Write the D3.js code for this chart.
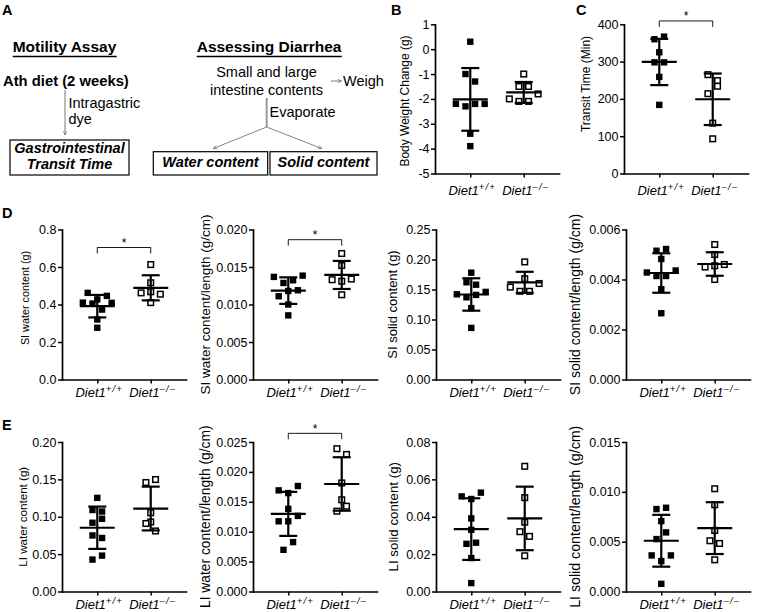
<!DOCTYPE html>
<html><head><meta charset="utf-8">
<script src="https://cdn.jsdelivr.net/npm/d3@7"></script>
<style>
body{margin:0;background:#fff}
svg{display:block}
text{font-family:'Liberation Sans',Arial,Helvetica,sans-serif;fill:#000}
</style>
</head><body>
<svg id="fig" width="757" height="612"></svg>
<script>
// ================= DATA =================
const groupKeys = ["wt", "ko"];
const groupName = "Diet1";
const groupSups = ["+/+", "\u2013/\u2013"];

// B: body weight change (g)
const bodyWeightWT = [0.3, -1.0, -1.3, -2.2, -2.3, -2.2, -2.2, -3.4, -3.9];
const bodyWeightKO = [-1.0, -1.5, -1.5, -2.0, -2.1, -2.1, -1.8];
const bodyWeightMean = [-2.02, -1.74];
const bodyWeightSD = [1.26, 0.42];
const bodyWeightTicks = [-5, -4, -3, -2, -1, 0, 1];

// C: transit time (min)
const transitWT = [360, 367, 325, 298, 298, 259, 184];
const transitKO = [265, 249, 214, 234, 135, 93];
const transitMean = [299, 199];
const transitSD = [62, 69];
const transitTicks = [0, 100, 200, 300, 400];
const transitSig = 409;

// D1: SI water content (g)
const siWaterWT = [0.462, 0.427, 0.446, 0.41, 0.405, 0.373, 0.409, 0.32, 0.276];
const siWaterKO = [0.613, 0.516, 0.462, 0.468, 0.455, 0.41];
const siWaterMean = [0.391, 0.489];
const siWaterSD = [0.060, 0.067];
const siWaterTicks = [0, 0.2, 0.4, 0.6, 0.8];
const siWaterSig = 0.704;

// D2: SI water content/length (g/cm)
const siWaterLenWT = [0.01368, 0.01287, 0.01323, 0.01385, 0.0111, 0.0118, 0.0119, 0.0100, 0.00855];
const siWaterLenKO = [0.0168, 0.0152, 0.0133, 0.0131, 0.0134, 0.0113];
const siWaterLenMean = [0.01185, 0.01394];
const siWaterLenSD = [0.00177, 0.00187];
const siWaterLenTicks = [0, 0.005, 0.010, 0.015, 0.020];
const siWaterLenSig = 0.01864;

// D3: SI solid content (g)
const siSolidWT = [0.178, 0.162, 0.158, 0.142, 0.137, 0.141, 0.146, 0.119, 0.086];
const siSolidKO = [0.196, 0.168, 0.154, 0.147, 0.147, 0.160];
const siSolidMean = [0.1417, 0.162];
const siSolidSD = [0.027, 0.0175];
const siSolidTicks = [0, 0.05, 0.10, 0.15, 0.20, 0.25];

// D4: SI solid content/length (g/cm)
const siSolidLenWT = [0.00515, 0.00522, 0.00482, 0.00428, 0.00414, 0.00414, 0.00436, 0.00361, 0.00265];
const siSolidLenKO = [0.0054, 0.0050, 0.0045, 0.00455, 0.0046, 0.0040];
const siSolidLenMean = [0.00426, 0.00462];
const siSolidLenSD = [0.00079, 0.00047];
const siSolidLenTicks = [0, 0.002, 0.004, 0.006];

// E1: LI water content (g)
const liWaterWT = [0.1253, 0.109, 0.107, 0.092, 0.0973, 0.075, 0.0716, 0.0427, 0.048];
const liWaterKO = [0.1458, 0.1498, 0.1053, 0.093, 0.091, 0.081];
const liWaterMean = [0.0853, 0.111];
const liWaterSD = [0.0283, 0.0293];
const liWaterTicks = [0, 0.05, 0.10, 0.15, 0.20];

// E2: LI water content/length (g/cm)
const liWaterLenWT = [0.01691, 0.01646, 0.01764, 0.01382, 0.01174, 0.01174, 0.01264, 0.00697, 0.00826];
const liWaterLenKO = [0.02388, 0.02292, 0.01815, 0.01534, 0.01343, 0.01427];
const liWaterLenMean = [0.01298, 0.01798];
const liWaterLenSD = [0.00368, 0.00447];
const liWaterLenTicks = [0, 0.005, 0.010, 0.015, 0.020, 0.025];
const liWaterLenSig = 0.02645;

// E3: LI solid content (g)
const liSolidWT = [0.0509, 0.0495, 0.0529, 0.0391, 0.033, 0.0255, 0.0261, 0.0179, 0.0045];
const liSolidKO = [0.067, 0.0502, 0.0371, 0.032, 0.0295, 0.0191];
const liSolidMean = [0.0334, 0.0391];
const liSolidSD = [0.0165, 0.017];
const liSolidTicks = [0, 0.02, 0.04, 0.06, 0.08];

// E4: LI solid content/length (g/cm)
const liSolidLenWT = [0.00827, 0.0084, 0.00706, 0.00526, 0.00593, 0.00362, 0.00305, 0.00362, 0.00077];
const liSolidLenKO = [0.01031, 0.0087, 0.00613, 0.00509, 0.00482, 0.00318];
const liSolidLenMean = [0.00509, 0.00636];
const liSolidLenSD = [0.0026, 0.0026];
const liSolidLenTicks = [0, 0.005, 0.010, 0.015];

// ================= LAYOUT =================
const svg = d3.select("#fig");
svg.append("rect").attr("width", 757).attr("height", 612).attr("fill", "#fff");

const rowTop = {top: 24.3, bot: 173.5, lab: 21};
const rowD = {top: 229.5, bot: 379.5, lab: 17.5};
const rowE = {top: 442, bot: 591.5, lab: 17.5};

const panels = [
  {ax: 435, row: rowTop, wt: bodyWeightWT, ko: bodyWeightKO, mean: bodyWeightMean, sd: bodyWeightSD, ticks: bodyWeightTicks, fmt: d => String(d), title: "Body Weight Change  (g)", tSize: 12, tX: 405, tY: 101},
  {ax: 624, row: rowTop, wt: transitWT, ko: transitKO, mean: transitMean, sd: transitSD, ticks: transitTicks, fmt: d3.format("d"), title: "Transit Time (Min)", tSize: 12, tX: 586, tY: 84, sig: transitSig},
  {ax: 62, row: rowD, wt: siWaterWT, ko: siWaterKO, mean: siWaterMean, sd: siWaterSD, ticks: siWaterTicks, fmt: d3.format(".1f"), title: "SI water content (g)", tSize: 10.8, tX: 25, tY: 298, sig: siWaterSig},
  {ax: 253, row: rowD, wt: siWaterLenWT, ko: siWaterLenKO, mean: siWaterLenMean, sd: siWaterLenSD, ticks: siWaterLenTicks, fmt: d3.format(".3f"), title: "SI water content/length (g/cm)", tSize: 13.5, tX: 205, sig: siWaterLenSig},
  {ax: 436, row: rowD, wt: siSolidWT, ko: siSolidKO, mean: siSolidMean, sd: siSolidSD, ticks: siSolidTicks, fmt: d3.format(".2f"), title: "SI solid content (g)", tSize: 13, tX: 392},
  {ax: 626, row: rowD, wt: siSolidLenWT, ko: siSolidLenKO, mean: siSolidLenMean, sd: siSolidLenSD, ticks: siSolidLenTicks, fmt: d3.format(".3f"), title: "SI solid content/length (g/cm)", tSize: 14, tX: 575},
  {ax: 62, row: rowE, wt: liWaterWT, ko: liWaterKO, mean: liWaterMean, sd: liWaterSD, ticks: liWaterTicks, fmt: d3.format(".2f"), title: "LI water content (g)", tSize: 11.6, tX: 22},
  {ax: 253, row: rowE, wt: liWaterLenWT, ko: liWaterLenKO, mean: liWaterLenMean, sd: liWaterLenSD, ticks: liWaterLenTicks, fmt: d3.format(".3f"), title: "LI water content/length (g/cm)", tSize: 13.8, tX: 205, sig: liWaterLenSig},
  {ax: 436, row: rowE, wt: liSolidWT, ko: liSolidKO, mean: liSolidMean, sd: liSolidSD, ticks: liSolidTicks, fmt: d3.format(".2f"), title: "LI solid content (g)", tSize: 13.3, tX: 393},
  {ax: 626, row: rowE, wt: liSolidLenWT, ko: liSolidLenKO, mean: liSolidLenMean, sd: liSolidLenSD, ticks: liSolidLenTicks, fmt: d3.format(".3f"), title: "LI solid content/length (g/cm)", tSize: 14.2, tX: 575}
];

function swarm(values, y, thr, gap) {
  const idx = values.map((v, i) => i).sort((a, b) => values[a] - values[b] || a - b);
  const off = new Array(values.length).fill(0);
  const rows = [];
  let cur = null;
  for (const i of idx) {
    if (cur && Math.abs(y(values[i]) - y(values[cur[0]])) < thr) cur.push(i);
    else { cur = [i]; rows.push(cur); }
  }
  rows.forEach(r => {
    r.sort((a, b) => a - b);
    r.forEach((i, k) => off[i] = (k - (r.length - 1) / 2) * gap);
  });
  return off;
}

function drawPanel(p) {
  const {ax, row} = p;
  const y = d3.scaleLinear().domain([p.ticks[0], p.ticks[p.ticks.length - 1]]).range([row.bot, row.top]);
  const x = d3.scalePoint().domain(groupKeys).range([ax, ax + 124]).padding(0.66);
  const g = svg.append("g");

  // y axis
  const ya = g.append("g").attr("transform", `translate(${ax},0)`)
    .call(d3.axisLeft(y).tickValues(p.ticks).tickFormat(p.fmt).tickSize(4).tickSizeOuter(0).tickPadding(1.5));
  ya.select(".domain").attr("stroke-width", 1.7).attr("stroke-linecap", "square");
  ya.selectAll(".tick line").attr("stroke-width", 1.5);
  ya.selectAll(".tick text").attr("font-size", 12.5).attr("font-family", "'Liberation Sans',Arial,sans-serif").attr("fill", "#000");

  // x axis
  const xa = g.append("g").attr("transform", `translate(0,${row.bot})`)
    .call(d3.axisBottom(x).tickSize(4).tickSizeOuter(0).tickFormat(""));
  xa.select(".domain").attr("stroke-width", 1.7).attr("stroke-linecap", "square");
  xa.selectAll(".tick line").attr("stroke-width", 1.5);

  // category labels
  groupKeys.forEach((k, i) => {
    const t = g.append("text").attr("x", x(k) + 2).attr("y", row.bot + row.lab)
      .attr("text-anchor", "middle").attr("font-size", 13).attr("font-style", "italic");
    t.append("tspan").text(groupName);
    t.append("tspan").attr("dy", -5).attr("font-size", 9.5).attr("letter-spacing", 1.2).text(groupSups[i]);
  });

  // title
  const ty = p.tY !== undefined ? p.tY : (row.top + row.bot) / 2;
  g.append("text").attr("transform", `translate(${p.tX},${ty}) rotate(-90)`)
    .attr("text-anchor", "middle").attr("dominant-baseline", "central")
    .attr("font-size", p.tSize).text(p.title);

  // points
  const series = [p.wt, p.ko];
  series.forEach((vals, gi) => {
    const off = swarm(vals, y, 8, 9.6);
    const cx = x(groupKeys[gi]);
    const s = gi === 0 ? 6.4 : 5.6;
    g.append("g").selectAll("rect").data(vals).join("rect")
      .attr("x", (d, i) => cx + off[i] - s / 2)
      .attr("y", d => y(d) - s / 2)
      .attr("width", s)
      .attr("height", s)
      .attr("fill", gi === 0 ? "#000" : "#fff")
      .attr("stroke", gi === 0 ? "none" : "#000")
      .attr("stroke-width", 1.5);
  });

  // mean ± SD
  groupKeys.forEach((k, gi) => {
    const cx = x(k), m = p.mean[gi], s = p.sd[gi];
    const eb = g.append("g").attr("stroke", "#000").attr("stroke-width", 2.2).attr("fill", "none");
    eb.append("line").attr("x1", cx - 17.5).attr("x2", cx + 17.5).attr("y1", y(m)).attr("y2", y(m));
    eb.append("line").attr("x1", cx).attr("x2", cx).attr("y1", y(m + s)).attr("y2", y(m - s));
    eb.append("line").attr("x1", cx - 9).attr("x2", cx + 9).attr("y1", y(m + s)).attr("y2", y(m + s));
    eb.append("line").attr("x1", cx - 9).attr("x2", cx + 9).attr("y1", y(m - s)).attr("y2", y(m - s));
  });

  // significance bracket
  if (p.sig !== undefined) {
    const yb = y(p.sig), x1 = x(groupKeys[0]), x2 = x(groupKeys[1]);
    g.append("path").attr("d", `M${x1},${yb + 6}V${yb}H${x2}V${yb + 6}`)
      .attr("fill", "none").attr("stroke", "#000").attr("stroke-width", 0.9);
    g.append("text").attr("x", (x1 + x2) / 2).attr("y", yb - 0.5).attr("text-anchor", "middle")
      .attr("font-size", 12).text("*");
  }
}
panels.forEach(drawPanel);

// panel letters
[["A", 2, 14.5], ["B", 391, 15], ["C", 576, 15], ["D", 2, 218], ["E", 2, 430]].forEach(([t, lx, ly]) => {
  svg.append("text").attr("x", lx).attr("y", ly).attr("font-size", 14.5).attr("font-weight", "bold").text(t);
});

// ================= PANEL A (schematic) =================
const A = svg.append("g");
const defs = svg.append("defs");
defs.append("marker").attr("id", "arr").attr("viewBox", "0 0 10 10").attr("refX", 9).attr("refY", 5)
  .attr("markerWidth", 6).attr("markerHeight", 6).attr("orient", "auto-start-reverse")
  .append("path").attr("d", "M1,1L9,5L1,9").attr("fill", "none").attr("stroke", "#555").attr("stroke-width", 1.2);

function txt(s, x0, y0, opts = {}) {
  const t = A.append("text").attr("x", x0).attr("y", y0).attr("font-size", opts.size || 14.5)
    .attr("text-anchor", opts.anchor || "start").text(s);
  if (opts.bold) t.attr("font-weight", "bold");
  if (opts.italic) t.attr("font-style", "italic");
  return t;
}
const t1 = txt("Motility Assay", 12.7, 51.7, {bold: true, size: 15.5});
const t2 = txt("Assessing Diarrhea", 196.7, 51.7, {bold: true, size: 15.5});
[t1, t2].forEach(t => {
  const b = t.node().getBBox();
  A.append("line").attr("x1", b.x).attr("x2", b.x + b.width).attr("y1", 56.5).attr("y2", 56.5)
    .attr("stroke", "#000").attr("stroke-width", 1.3);
});
txt("Ath diet (2 weeks)", 3, 86, {bold: true, size: 14.8});
A.append("line").attr("x1", 65).attr("x2", 65).attr("y1", 90).attr("y2", 135)
  .attr("stroke", "#555").attr("stroke-width", 0.8).attr("marker-end", "url(#arr)");
txt("Intragastric", 68.5, 108);
txt("dye", 68.5, 124);
A.append("rect").attr("x", 10).attr("y", 140).attr("width", 119).attr("height", 35)
  .attr("fill", "none").attr("stroke", "#000").attr("stroke-width", 1.2);
txt("Gastrointestinal", 69.5, 152.5, {bold: true, italic: true, anchor: "middle"});
txt("Transit Time", 69.5, 169, {bold: true, italic: true, anchor: "middle"});

txt("Small and large", 266.5, 77.3, {anchor: "middle"});
txt("intestine contents", 266.5, 95, {anchor: "middle"});
A.append("line").attr("x1", 331).attr("x2", 341.5).attr("y1", 81).attr("y2", 81)
  .attr("stroke", "#555").attr("stroke-width", 0.8).attr("marker-end", "url(#arr)");
txt("Weigh", 343, 86);
A.append("line").attr("x1", 266.7).attr("x2", 266.7).attr("y1", 98).attr("y2", 127)
  .attr("stroke", "#999").attr("stroke-width", 2);
txt("Evaporate", 269.5, 117.3);
A.append("line").attr("x1", 266.7).attr("y1", 127).attr("x2", 213.3).attr("y2", 148.5)
  .attr("stroke", "#666").attr("stroke-width", 0.8).attr("marker-end", "url(#arr)");
A.append("line").attr("x1", 266.7).attr("y1", 127).attr("x2", 321.7).attr("y2", 148.5)
  .attr("stroke", "#666").attr("stroke-width", 0.8).attr("marker-end", "url(#arr)");
A.append("rect").attr("x", 153.3).attr("y", 151.7).attr("width", 114.4).attr("height", 23.3)
  .attr("fill", "none").attr("stroke", "#000").attr("stroke-width", 1.2);
A.append("rect").attr("x", 270).attr("y", 151.7).attr("width", 107).attr("height", 23.3)
  .attr("fill", "none").attr("stroke", "#000").attr("stroke-width", 1.2);
txt("Water content", 210.5, 167, {bold: true, italic: true, anchor: "middle"});
txt("Solid content", 323.5, 167, {bold: true, italic: true, anchor: "middle"});
</script>
</body></html>
